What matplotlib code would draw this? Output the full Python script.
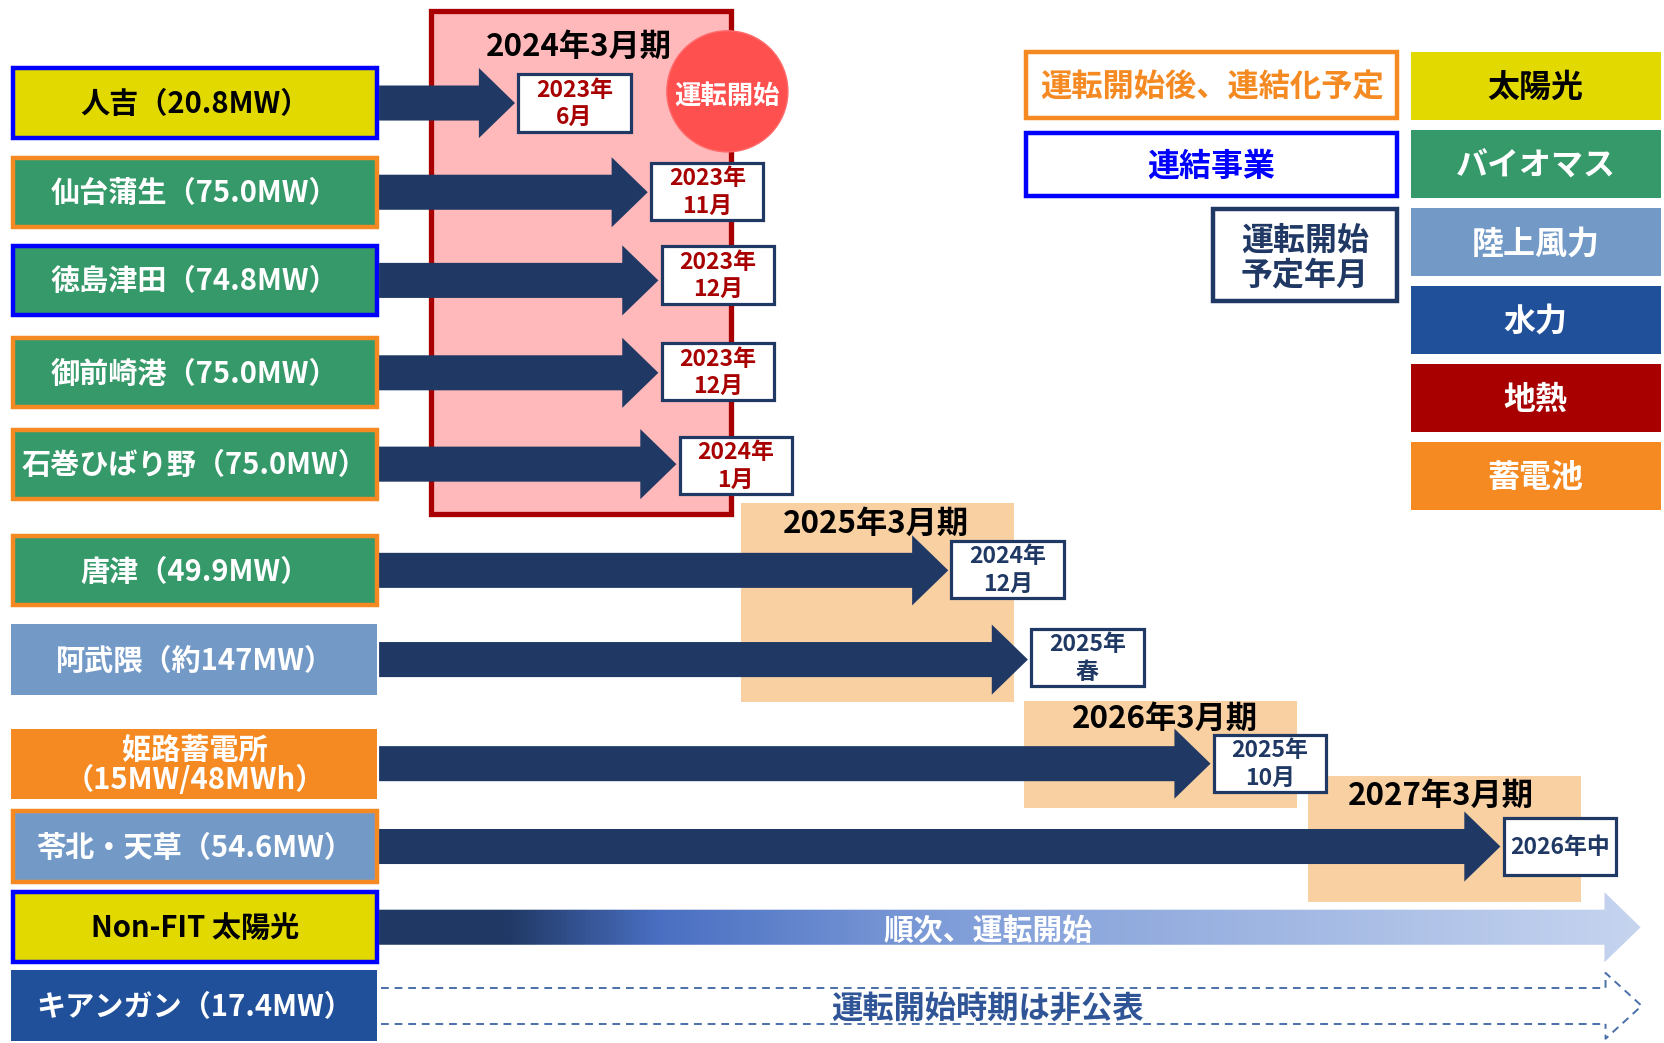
import matplotlib
matplotlib.use("Agg")
import matplotlib.pyplot as plt
from matplotlib.patches import Rectangle, Circle, Polygon
from matplotlib.colors import LinearSegmentedColormap
import numpy as np

plt.rcParams['font.family'] = ['Noto Sans CJK JP', 'DejaVu Sans']
plt.rcParams['font.weight'] = 'bold'

# projects, top to bottom
projects = ["人吉（20.8MW）", "仙台蒲生（75.0MW）", "徳島津田（74.8MW）", "御前崎港（75.0MW）",
            "石巻ひばり野（75.0MW）", "唐津（49.9MW）", "阿武隈（約147MW）",
            "姫路蓄電所\n（15MW/48MWh）", "苓北・天草（54.6MW）", "Non-FIT 太陽光",
            "キアンガン（17.4MW）"]
techs = ["太陽光", "バイオマス", "バイオマス", "バイオマス", "バイオマス", "バイオマス",
         "陸上風力", "蓄電池", "陸上風力", "太陽光", "水力"]
status = ["連結", "連結化予定", "連結", "連結化予定", "連結化予定", "連結化予定",
          "", "", "連結化予定", "連結", ""]
start_dates = ["2023年\n6月", "2023年\n11月", "2023年\n12月", "2023年\n12月", "2024年\n1月",
               "2024年\n12月", "2025年\n春", "2025年\n10月", "2026年中"]
started = [True, True, True, True, True, False, False, False, False]
fiscal_years = ["2024年3月期", "2025年3月期", "2026年3月期", "2027年3月期"]
notes = ["順次、運転開始", "運転開始時期は非公表"]
legend_techs = ["太陽光", "バイオマス", "陸上風力", "水力", "地熱", "蓄電池"]
legend_status = ["運転開始後、連結化予定", "連結事業", "運転開始\n予定年月"]

# styles
tech_color = {"太陽光": "#E2D900", "バイオマス": "#35996A", "陸上風力": "#739AC7",
              "水力": "#21509A", "地熱": "#A80000", "蓄電池": "#F58A23"}
status_color = {"連結": "#0000FF", "連結化予定": "#F58A23"}
navy = "#203864"
darkred = "#A80000"

# layout (figure coordinates, y down)
row_y = [97, 181, 264, 351, 437, 537, 621, 719, 797, 873, 947]
row_h = [70, 69, 69, 69, 69, 69, 67, 66, 70, 70, 67]
tip_x = [485, 610, 620, 620, 637, 893, 968, 1140, 1413]
date_y = [97, 180, 259, 350, 438, 536, 619, 719, 797]
fy_box = [(406, 10, 688, 484), (698, 474, 955, 661), (964, 660, 1221, 761), (1232, 731, 1489, 849)]
fy_lab = [(545, 44), (825, 493), (1097, 677), (1357, 749)]

fig = plt.figure(figsize=(16.65, 10.43), dpi=100)
ax = fig.add_axes([0, 0, 1, 1])
ax.set_xlim(0, 1568)
ax.set_ylim(982, 0)
ax.axis("off")

# fiscal year bands
for i, (x0, y0, x1, y1) in enumerate(fy_box):
    if i == 0:
        ax.add_patch(Rectangle((x0, y0), x1 - x0, y1 - y0, facecolor="#FFB9BA",
                               edgecolor=darkred, lw=3.8, zorder=1))
    else:
        ax.add_patch(Rectangle((x0, y0), x1 - x0, y1 - y0, facecolor="#F8D0A2",
                               edgecolor="none", zorder=1))
    ax.text(fy_lab[i][0], fy_lab[i][1], fiscal_years[i], ha="center", va="center",
            fontsize=22.5, color="black", zorder=2)


def arrow_poly(x0, x1, yc, sh=33, hh=66, hl=34):
    return [(x0, yc - sh / 2), (x1 - hl, yc - sh / 2), (x1 - hl, yc - hh / 2), (x1, yc),
            (x1 - hl, yc + hh / 2), (x1 - hl, yc + sh / 2), (x0, yc + sh / 2)]


# project boxes
box_x0, box_x1 = 10, 357
for i, name in enumerate(projects):
    yc, h = row_y[i], row_h[i]
    fc = tech_color[techs[i]]
    if status[i]:
        ax.add_patch(Rectangle((box_x0 + 2, yc - h / 2 + 2), box_x1 - box_x0 - 4, h - 4,
                               facecolor=fc, edgecolor=status_color[status[i]], lw=3.2, zorder=3))
    else:
        ax.add_patch(Rectangle((box_x0, yc - h / 2), box_x1 - 2 - box_x0, h,
                               facecolor=fc, edgecolor="none", zorder=3))
    tc = "black" if techs[i] == "太陽光" else "white"
    ax.text((box_x0 + box_x1) / 2, yc + 1, name, ha="center", va="center", fontsize=21,
            color=tc, linespacing=1.0, zorder=4)

# timeline arrows + start date boxes
for i, lab in enumerate(start_dates):
    ax.add_patch(Polygon(arrow_poly(box_x1, tip_x[i], row_y[i]), closed=True,
                         facecolor=navy, edgecolor="none", zorder=5))
    bx = tip_x[i] + 3
    ax.add_patch(Rectangle((bx, date_y[i] - 27), 106, 54, facecolor="white",
                           edgecolor=navy, lw=2.3, zorder=6))
    ax.text(bx + 53, date_y[i] + 1, lab, ha="center", va="center", fontsize=16.5,
            color=darkred if started[i] else navy, linespacing=1.25, zorder=7)

# started badge
ax.add_patch(Circle((685, 86), 57, facecolor="#FF5050", edgecolor="#FF6A6A", lw=1, zorder=8))
ax.text(685, 91, "運転開始", ha="center", va="center", fontsize=19, color="white", zorder=9)

# gradient arrow (Non-FIT)
gx1 = 1545
poly = Polygon(arrow_poly(box_x1, gx1, row_y[9]), closed=True, facecolor="none",
               edgecolor="none", zorder=5)
ax.add_patch(poly)
cmap = LinearSegmentedColormap.from_list(
    "grad", [(0, navy), (0.10, navy), (0.22, "#4A6FC2"), (0.45, "#7F9DD8"), (1, "#C6D4EF")])
grad = np.linspace(0, 1, 512).reshape(1, -1)
im = ax.imshow(grad, cmap=cmap, aspect="auto", extent=(box_x1, gx1, row_y[9] + 34, row_y[9] - 34),
               zorder=5)
im.set_clip_path(poly)
ax.text(930, row_y[9] + 3, notes[0], ha="center", va="center", fontsize=21.5, color="white", zorder=7)

# dashed arrow (undisclosed)
yc = row_y[10]
dash_col = "#4A6FA8"
hx = 1512
ax.plot([box_x1 + 2, hx], [yc - 17, yc - 17], ls=(0, (4, 3)), color=dash_col, lw=1.4, zorder=5)
ax.plot([box_x1 + 2, hx], [yc + 17, yc + 17], ls=(0, (4, 3)), color=dash_col, lw=1.4, zorder=5)
ax.plot([hx, hx, 1546, hx, hx], [yc - 17, yc - 31, yc, yc + 31, yc + 17],
        ls=(0, (4, 3)), color=dash_col, lw=1.4, zorder=5)
ax.text(930, yc + 3, notes[1], ha="center", va="center", fontsize=22.5, color="#2F5597", zorder=7)

# legend: consolidation status
ax.add_patch(Rectangle((966, 49), 350, 62, facecolor="white", edgecolor="#F58A23", lw=3.2, zorder=3))
ax.text(1141, 82, legend_status[0], ha="center", va="center", fontsize=22.5, color="#F58A23", zorder=4)
ax.add_patch(Rectangle((966, 125), 350, 60, facecolor="white", edgecolor="#0000FF", lw=3.2, zorder=3))
ax.text(1141, 157, legend_status[1], ha="center", va="center", fontsize=23, color="#0000FF", zorder=4)
ax.add_patch(Rectangle((1142, 197), 174, 86, facecolor="white", edgecolor=navy, lw=3.2, zorder=3))
ax.text(1229, 243, legend_status[2], ha="center", va="center", fontsize=23, color=navy,
        linespacing=1.15, zorder=4)

# legend: technologies
for k, t in enumerate(legend_techs):
    y0 = 49 + k * 73.4
    ax.add_patch(Rectangle((1329, y0), 235, 64, facecolor=tech_color[t], edgecolor="none", zorder=3))
    ax.text(1446, y0 + 34, t, ha="center", va="center", fontsize=23,
            color="black" if t == "太陽光" else "white", zorder=4)

fig.savefig("out.png", dpi=100)
